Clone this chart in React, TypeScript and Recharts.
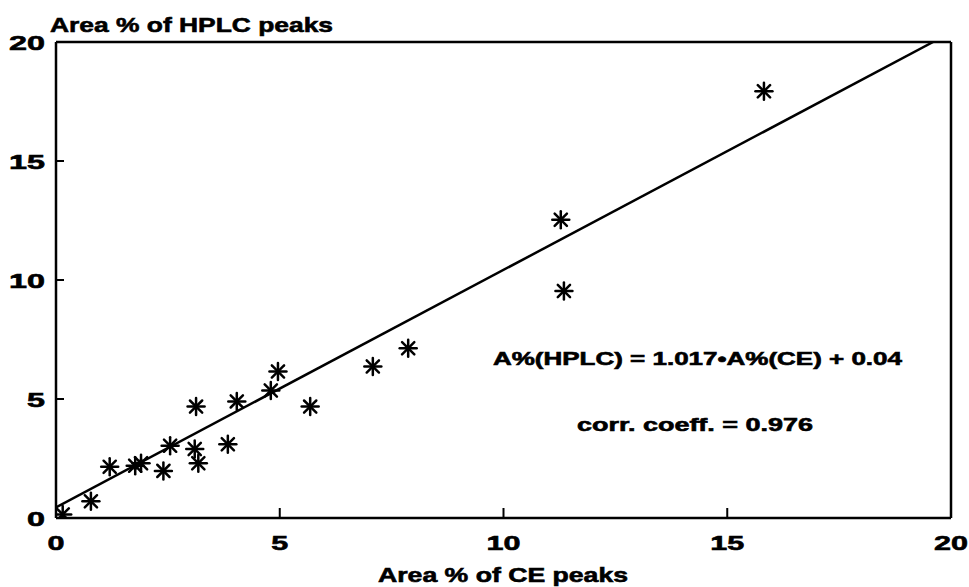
import React from "react";
import { ScatterChart, Scatter, XAxis, YAxis, ReferenceLine } from "recharts";

const ceValues = [0.15, 0.78, 1.2, 1.77, 1.9, 2.4, 2.55, 3.13, 3.1, 3.18, 3.84, 4.04, 4.8, 4.96, 5.68, 7.08, 7.87, 11.28, 11.35, 15.82];
const hplcValues = [0.15, 0.7, 2.15, 2.2, 2.3, 1.98, 3.04, 4.68, 2.9, 2.3, 3.1, 4.9, 5.36, 6.16, 4.68, 6.37, 7.13, 12.53, 9.54, 17.93];
const fitX = [0, 19.6];
const fitY = [0.45, 20];
const xTicks = [0, 5, 10, 15, 20];
const yTicks = [0, 5, 10, 15, 20];
const titleY = "Area % of HPLC peaks";
const titleX = "Area % of CE peaks";
const formulaText = "A%(HPLC) = 1.017\u2022A%(CE) + 0.04";
const corrText = "corr. coeff. = 0.976";

const points = ceValues.map((x, i) => ({ x, y: hplcValues[i] }));
const fitLine = fitX.map((x, i) => ({ x, y: fitY[i] }));

const FONT = "'Liberation Sans', Arial, sans-serif";
const TXT = { fontFamily: FONT, fontWeight: "bold" as const, fill: "#000", stroke: "#000", strokeWidth: 0.6 };

const Star = (props: any) => {
  const { cx, cy } = props;
  if (cx == null || cy == null) return <g />;
  const r = 8.5;
  const d = r * 0.72;
  return (
    <g stroke="#000" strokeWidth={2.5} strokeLinecap="round">
      <line x1={cx - r} y1={cy} x2={cx + r} y2={cy} />
      <line x1={cx} y1={cy - r} x2={cx} y2={cy + r} />
      <line x1={cx - d} y1={cy - d} x2={cx + d} y2={cy + d} />
      <line x1={cx - d} y1={cy + d} x2={cx + d} y2={cy - d} />
    </g>
  );
};

const XTick = (props: any) => {
  const { x, y, payload } = props;
  const v = payload.value;
  const label = String(v);
  return (
    <g>
      {v !== 0 && v !== 20 && <line x1={x} y1={y} x2={x} y2={y - 10} stroke="#000" strokeWidth={2} />}
      <text x={x} y={y + 32} textAnchor="middle" fontSize={21} {...TXT}
        textLength={label.length * 17} lengthAdjust="spacingAndGlyphs">{label}</text>
    </g>
  );
};

const YTick = (props: any) => {
  const { x, y, payload } = props;
  const v = payload.value;
  const label = String(v);
  return (
    <g>
      {v !== 0 && v !== 20 && <line x1={x} y1={y} x2={x + 8} y2={y} stroke="#000" strokeWidth={2} />}
      <text x={x - 11} y={y + 8} textAnchor="end" fontSize={21} {...TXT}
        textLength={label.length * 18} lengthAdjust="spacingAndGlyphs">{label}</text>
    </g>
  );
};

export default function App() {
  return (
    <div style={{ position: "absolute", left: 0, top: 0, width: 969, height: 587, background: "#fff" }}>
      <ScatterChart width={969} height={587} margin={{ top: 42, right: 18, bottom: 29, left: 6 }}>
        <XAxis type="number" dataKey="x" domain={[0, 20]} ticks={xTicks} allowDataOverflow
          height={40} tickSize={0} tickMargin={0} tick={<XTick />} tickLine={false}
          axisLine={{ stroke: "#000", strokeWidth: 2.5 }} />
        <YAxis type="number" dataKey="y" domain={[0, 20]} ticks={yTicks} allowDataOverflow
          width={50} tickSize={0} tickMargin={0} tick={<YTick />} tickLine={false}
          axisLine={{ stroke: "#000", strokeWidth: 2.5 }} />
        <ReferenceLine y={20} stroke="#000" strokeWidth={2.5} />
        <ReferenceLine x={20} stroke="#000" strokeWidth={2.5} />
        <Scatter data={fitLine} isAnimationActive={false} line={{ stroke: "#000", strokeWidth: 2.5 }}
          shape={() => <g />} />
        <Scatter data={points} isAnimationActive={false} shape={<Star />} />
      </ScatterChart>
      <svg width={969} height={587} style={{ position: "absolute", left: 0, top: 0, pointerEvents: "none" }}>
        <text x={50} y={32} fontSize={21} textLength={283} lengthAdjust="spacingAndGlyphs" {...TXT}>{titleY}</text>
        <text x={378} y={582} fontSize={20} textLength={250} lengthAdjust="spacingAndGlyphs" {...TXT}>{titleX}</text>
        <text x={493} y={365} fontSize={18} textLength={409} lengthAdjust="spacingAndGlyphs" {...TXT}>{formulaText}</text>
        <text x={577} y={431} fontSize={18} textLength={236} lengthAdjust="spacingAndGlyphs" {...TXT}>{corrText}</text>
      </svg>
    </div>
  );
}
